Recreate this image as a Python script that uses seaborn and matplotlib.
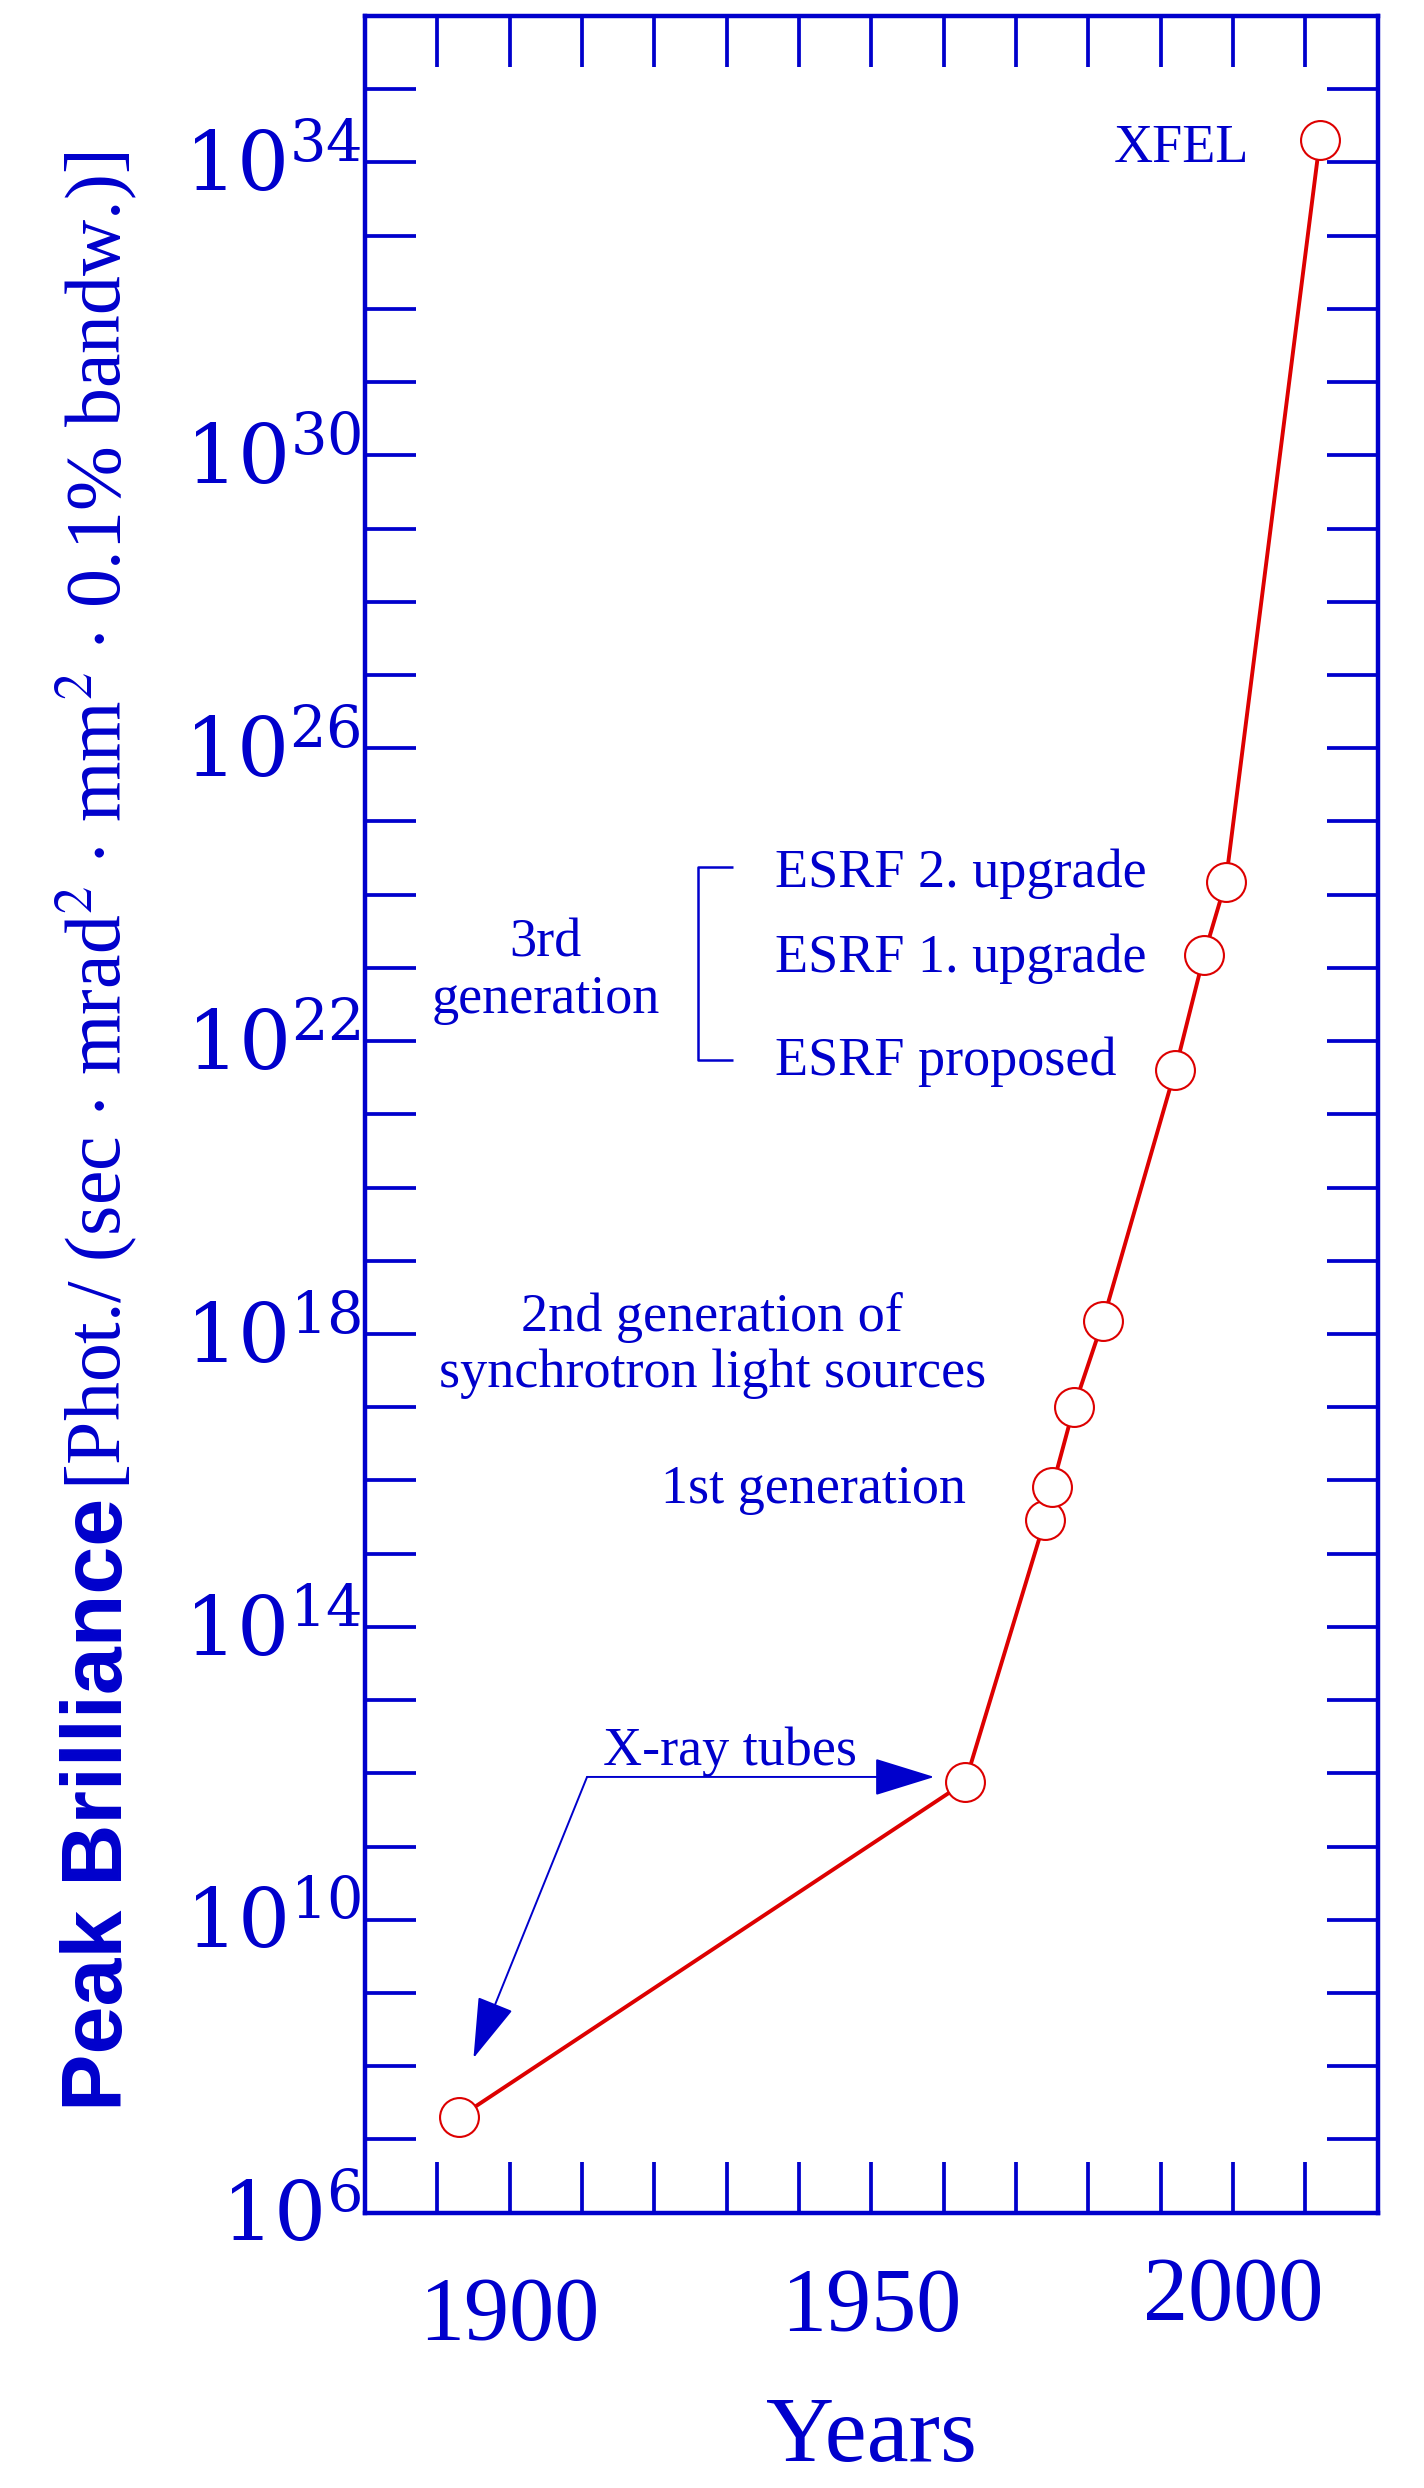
import matplotlib
matplotlib.use("Agg")
import matplotlib.pyplot as plt
from matplotlib.ticker import NullFormatter
from matplotlib.transforms import ScaledTranslation
import numpy as np
import pandas as pd
import seaborn as sns

# ---------------- data ----------------
years = [1893, 1963, 1974, 1975, 1978, 1982, 1992, 1996, 1999, 2012]
brilliance = [2e7, 7.6e11, 2.9e15, 8e15, 1e17, 1.5e18, 4e21, 1.5e23, 1.5e24, 2e34]

x_major = [1900, 1950, 2000]
x_major_labels = ["1900", "1950", "2000"]
x_minor = [1890, 1910, 1920, 1930, 1940, 1960, 1970, 1980, 1990, 2010]
y_major_exp = [6, 10, 14, 18, 22, 26, 30, 34]
y_minor_exp = [7, 8, 9, 11, 12, 13, 15, 16, 17, 19, 20, 21, 23, 24, 25,
               27, 28, 29, 31, 32, 33, 35]

BLUE = "#0000CC"
RED = "#DD0000"

# ---------------- style ----------------
sns.set_theme(style="white")
plt.rcParams["font.family"] = ["Liberation Serif", "DejaVu Serif"]
plt.rcParams["mathtext.fontset"] = "dejavuserif"

fig, ax = plt.subplots(figsize=(14.24, 24.88), dpi=100)
fig.subplots_adjust(left=0.2563, right=0.9675, top=0.99357, bottom=0.11069)
ax.set_yscale("log")

df = pd.DataFrame({"Year": years, "Brilliance": brilliance})
sns.lineplot(data=df, x="Year", y="Brilliance", ax=ax, color=RED, lw=2.8,
             marker="o", markersize=28, markerfacecolor="white",
             markeredgecolor=RED, markeredgewidth=1.5, zorder=5)

ax.set_xlim(1880, 2020)
ax.set_ylim(1e6, 1e36)

ax.set_xticks(x_major, x_major_labels)
ax.set_xticks(x_minor, minor=True)
ax.set_yticks([10.0 ** e for e in y_major_exp],
              [rf"$10^{{{e}}}$" for e in y_major_exp])
ax.set_yticks([10.0 ** e for e in y_minor_exp], minor=True)
ax.yaxis.set_minor_formatter(NullFormatter())

ax.tick_params(which="both", direction="in", top=True, right=True,
               bottom=True, left=True, length=36.7, width=2.7, color=BLUE)
ax.tick_params(axis="x", which="major", labelsize=65, pad=46, labelcolor=BLUE)
ax.tick_params(axis="y", which="major", labelsize=59, pad=3, labelcolor=BLUE)

for s in ax.spines.values():
    s.set_color(BLUE)
    s.set_linewidth(3.2)

# staggered x tick labels as in the original
for lbl, dy in zip(ax.get_xticklabels(), [0.0, 0.09, 0.2]):
    lbl.set_transform(lbl.get_transform() + ScaledTranslation(0, dy, fig.dpi_scale_trans))

ax.set_xlabel("Years", fontsize=68, color=BLUE, labelpad=27)
ax.set_ylabel("")

# y label (two fonts)
fig.text(122 / 1424, 1 - 2111 / 2488, "Peak Brilliance", rotation=90,
         rotation_mode="anchor", ha="left", va="baseline",
         family=["Liberation Sans", "DejaVu Sans"], weight="bold",
         fontsize=62, color=BLUE)
fig.text(120 / 1424, 1 - 1490 / 2488,
         r"[Phot./ (sec $\cdot$ mrad$^2$ $\cdot$ mm$^2$ $\cdot$ 0.1% bandw.)]",
         rotation=90, rotation_mode="anchor", ha="left", va="baseline",
         fontsize=56, color=BLUE, math_fontfamily="stix")

# ---------------- annotations ----------------
FS = 39
def note(x, y, s, ha="center"):
    ax.text(x, y, s, ha=ha, va="baseline", fontsize=FS, color=BLUE)

note(2002.2, 1e34, "XFEL", ha="right")
note(1936.7, 10 ** 24.10, "ESRF 2. upgrade", ha="left")
note(1936.7, 10 ** 22.94, "ESRF 1. upgrade", ha="left")
note(1936.7, 10 ** 21.53, "ESRF proposed", ha="left")
note(1905.0, 10 ** 23.155, "3rd")
note(1905.0, 10 ** 22.39, "generation")
note(1928.0, 10 ** 18.04, "2nd generation of")
note(1928.0, 10 ** 17.28, "synchrotron light sources")
note(1942.0, 10 ** 15.69, "1st generation")
note(1930.5, 10 ** 12.11, "X-ray tubes")

# bracket for 3rd generation
ax.plot([1930.9, 1926.0, 1926.0, 1930.9],
        [10 ** 24.38, 10 ** 24.38, 10 ** 21.74, 10 ** 21.74],
        color=BLUE, lw=1.8, solid_capstyle="butt")

# X-ray tube arrows
corner = (1910.7, 10 ** 11.95)
arrow_kw = dict(arrowstyle="-|>,head_length=1.94,head_width=0.6",
                mutation_scale=20, lw=1.4, color=BLUE, shrinkA=0, shrinkB=0)
ax.annotate("", xy=(1958.7, 10 ** 11.95), xytext=corner, arrowprops=arrow_kw)
ax.annotate("", xy=(1895.0, 10 ** 8.11), xytext=corner, arrowprops=arrow_kw)

fig.savefig("out.png", dpi=100)
